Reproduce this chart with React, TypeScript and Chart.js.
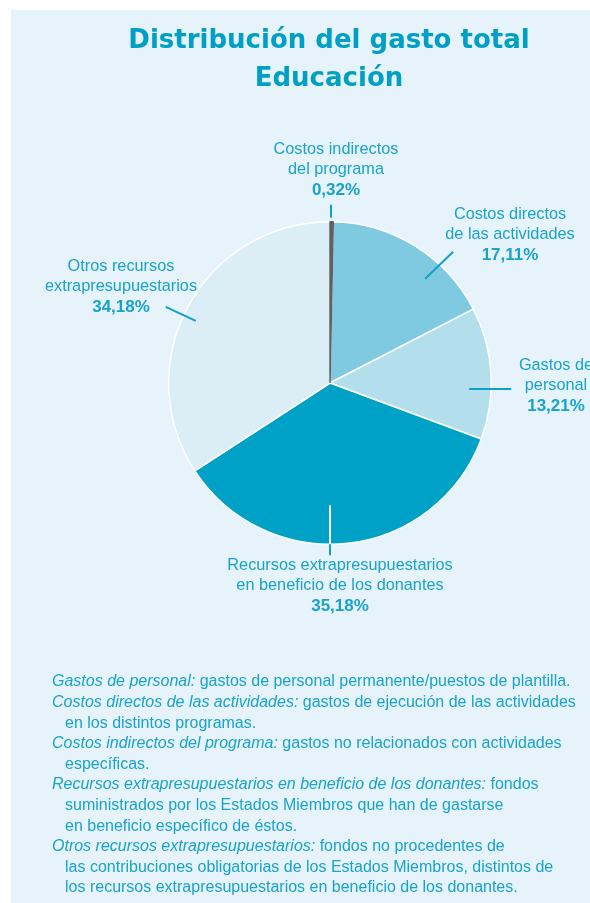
import React, { useEffect, useRef } from "react";
import { Chart, registerables } from "chart.js";

Chart.register(...registerables);

// ---- data ----
const categories = [
  "Costos indirectos del programa",
  "Costos directos de las actividades",
  "Gastos de personal",
  "Recursos extrapresupuestarios en beneficio de los donantes",
  "Otros recursos extrapresupuestarios",
];
const values = [0.32, 17.11, 13.21, 35.18, 34.18];
const labelLines = [
  ["Costos indirectos", "del programa"],
  ["Costos directos", "de las actividades"],
  ["Gastos de", "personal"],
  ["Recursos extrapresupuestarios", "en beneficio de los donantes"],
  ["Otros recursos", "extrapresupuestarios"],
];
const sliceColors = ["#5f6164", "#7fcae0", "#b3deec", "#00a1c6", "#dbeef6"];
const titleLines = ["Distribución del gasto total", "Educación"];
const noteLines: { it: string; rest: string; indent: boolean }[] = [
  { it: "Gastos de personal:", rest: " gastos de personal permanente/puestos de plantilla.", indent: false },
  { it: "Costos directos de las actividades:", rest: " gastos de ejecución de las actividades", indent: false },
  { it: "", rest: "en los distintos programas.", indent: true },
  { it: "Costos indirectos del programa:", rest: " gastos no relacionados con actividades", indent: false },
  { it: "", rest: "específicas.", indent: true },
  { it: "Recursos extrapresupuestarios en beneficio de los donantes:", rest: " fondos", indent: false },
  { it: "", rest: "suministrados por los Estados Miembros que han de gastarse", indent: true },
  { it: "", rest: "en beneficio específico de éstos.", indent: true },
  { it: "Otros recursos extrapresupuestarios:", rest: " fondos no procedentes de", indent: false },
  { it: "", rest: "las contribuciones obligatorias de los Estados Miembros, distintos de", indent: true },
  { it: "", rest: "los recursos extrapresupuestarios en beneficio de los donantes.", indent: true },
];

// ---- layout (not data) ----
const W = 590;
const H = 903;
const TEXT = "#18a3cb";
const labelPos = [
  { x: 336, y: 150 },
  { x: 510, y: 215 },
  { x: 556, y: 366 },
  { x: 340, y: 566 },
  { x: 121, y: 267 },
];
// leader lines relative to pie centre, in px at radius 161 (scaled by actual radius)
const leaders = [
  { a: [1, -178], b: [1, -165], inner: null },
  { a: [95, -104], b: [123, -131], inner: null },
  { a: [139, 6], b: [181, 6], inner: null },
  { a: [0, 122], b: [0, 172], inner: "#ffffff" },
  { a: [-134, -62], b: [-164, -76], inner: null },
];

const fmt = (v: number) => v.toFixed(2).replace(".", ",") + "%";

const decorPlugin = {
  id: "decor",
  beforeDraw(chart: any) {
    const ctx = chart.ctx;
    ctx.save();
    ctx.fillStyle = "#ffffff";
    ctx.fillRect(0, 0, W, H);
    ctx.fillStyle = "#e6f3fa";
    ctx.fillRect(11, 10, W - 11, H - 10);
    ctx.restore();
  },
  afterDatasetsDraw(chart: any) {
    // bring the tiny "indirect costs" slice to the front (drawn by the library's arc element)
    const meta = chart.getDatasetMeta(0);
    chart.ctx.save();
    meta.data[0].draw(chart.ctx, chart.chartArea);
    chart.ctx.restore();
  },
  afterDraw(chart: any) {
    const ctx = chart.ctx;
    const meta = chart.getDatasetMeta(0);
    const arc0 = meta.data[0];
    const cx = arc0.x;
    const cy = arc0.y;
    const R = arc0.outerRadius;
    const k = R / 161;
    ctx.save();
    // title
    ctx.fillStyle = "#00a0c6";
    ctx.textAlign = "center";
    ctx.textBaseline = "middle";
    ctx.font = "bold 26px 'DejaVu Sans'";
    ctx.fillText(titleLines[0], 329, 41);
    ctx.fillText(titleLines[1], 329, 79);

    // leader lines
    ctx.lineWidth = 2;
    leaders.forEach((l) => {
      const ax = cx + l.a[0] * k, ay = cy + l.a[1] * k;
      const bx = cx + l.b[0] * k, by = cy + l.b[1] * k;
      if (l.inner) {
        const ra = Math.hypot(ax - cx, ay - cy);
        const rb = Math.hypot(bx - cx, by - cy);
        const t = (R - ra) / (rb - ra);
        const mx = ax + (bx - ax) * t, my = ay + (by - ay) * t;
        ctx.strokeStyle = l.inner;
        ctx.beginPath(); ctx.moveTo(ax, ay); ctx.lineTo(mx, my); ctx.stroke();
        ctx.strokeStyle = "#10a0c8";
        ctx.beginPath(); ctx.moveTo(mx, my); ctx.lineTo(bx, by); ctx.stroke();
      } else {
        ctx.strokeStyle = "#10a0c8";
        ctx.beginPath(); ctx.moveTo(ax, ay); ctx.lineTo(bx, by); ctx.stroke();
      }
    });

    // slice labels
    ctx.fillStyle = TEXT;
    labelLines.forEach((lines, i) => {
      const p = labelPos[i];
      ctx.font = "16.3px 'Liberation Sans'";
      lines.forEach((s, j) => ctx.fillText(s, p.x, p.y + j * 20));
      ctx.font = "bold 17px 'Liberation Sans'";
      ctx.fillText(fmt(values[i]), p.x, p.y + lines.length * 20);
    });

    // notes
    ctx.textAlign = "left";
    ctx.textBaseline = "middle";
    noteLines.forEach((n, i) => {
      const y = 682 + i * 20.6;
      let x = n.indent ? 65 : 52;
      if (n.it) {
        ctx.font = "italic 16px 'Liberation Sans'";
        ctx.fillText(n.it, x, y);
        x += ctx.measureText(n.it).width;
      }
      ctx.font = "16px 'Liberation Sans'";
      ctx.fillText(n.rest, x, y);
    });
    ctx.restore();
  },
};

export default function App() {
  const ref = useRef<HTMLCanvasElement | null>(null);
  useEffect(() => {
    document.body.style.margin = "0";
    const canvas = ref.current!;
    const chart = new Chart(canvas, {
      type: "pie",
      data: {
        labels: categories,
        datasets: [
          {
            data: values,
            backgroundColor: sliceColors,
            borderColor: ["#5f6164", "#ffffff", "#ffffff", "#ffffff", "#ffffff"],
            borderWidth: [1.5, 1.5, 1.5, 1.5, 1.5],
          },
        ],
      },
      options: {
        responsive: false,
        animation: false,
        devicePixelRatio: 1,
        layout: { padding: { left: 168, right: 98, top: 221, bottom: 358 } },
        plugins: {
          legend: { display: false },
          tooltip: { enabled: false },
          title: { display: false },
        },
      },
      plugins: [decorPlugin],
    });
    return () => chart.destroy();
  }, []);
  return (
    <div style={{ width: W, height: H }}>
      <canvas ref={ref} width={W} height={H} style={{ display: "block" }} />
    </div>
  );
}
